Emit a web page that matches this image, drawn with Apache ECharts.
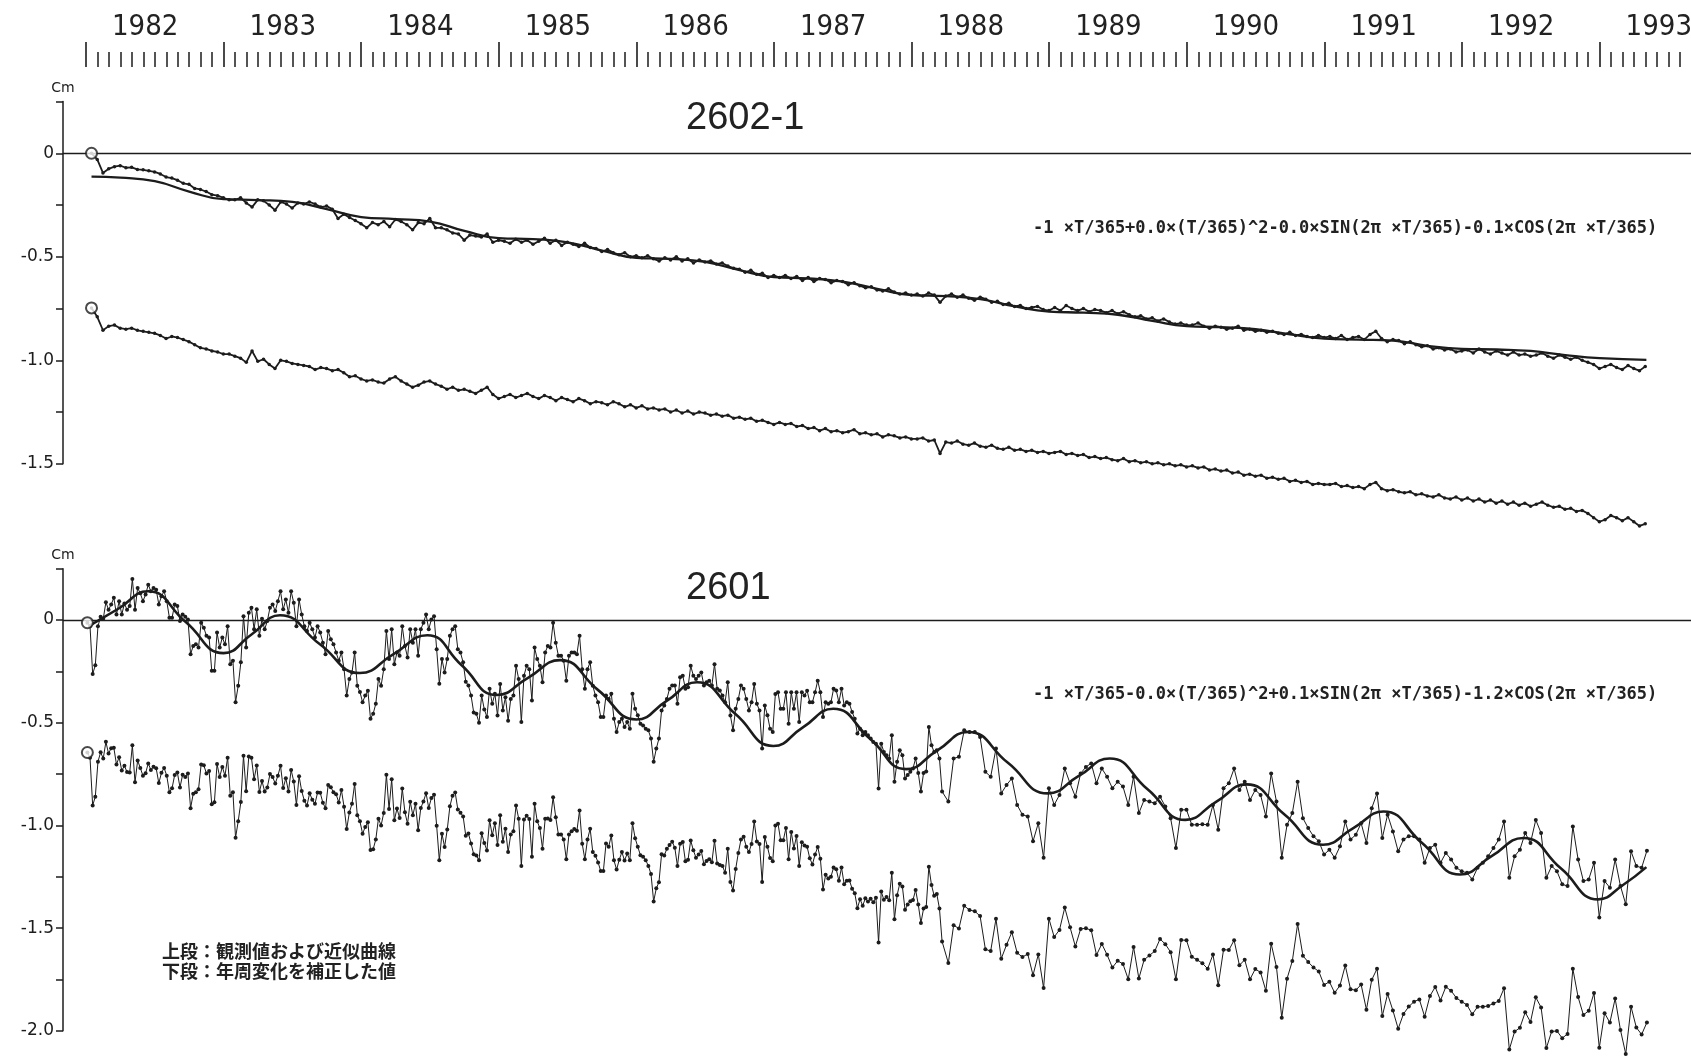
<!DOCTYPE html>
<html><head><meta charset="utf-8">
<script src="https://cdn.jsdelivr.net/npm/echarts@6/dist/echarts.min.js"></script>
<style>html,body{margin:0;padding:0;background:#fff}#c{width:1691px;height:1057px}</style>
</head><body><div id="c"></div>
<script>
// ---------------- DATA ----------------
const yearTicks = [1982,1983,1984,1985,1986,1987,1988,1989,1990,1991,1992,1993];

// Station 2602-1 (top panel), semi-monthly samples
const TOP_T0 = 1982.04, TOP_STEP = 1/24;
const topObs = [
 0,-0.03,-0.095,-0.075,-0.065,-0.06,-0.07,-0.068,-0.078,-0.08,-0.085,-0.09,-0.1,-0.115,-0.12,-0.13,-0.145,-0.15,-0.17,-0.175,-0.185,-0.2,-0.205,-0.215,
 -0.225,-0.225,-0.215,-0.24,-0.26,-0.225,-0.23,-0.25,-0.275,-0.235,-0.245,-0.265,-0.24,-0.245,-0.235,-0.245,-0.26,-0.255,-0.27,-0.315,-0.295,-0.31,-0.325,-0.34,
 -0.36,-0.335,-0.345,-0.33,-0.355,-0.32,-0.33,-0.345,-0.37,-0.335,-0.34,-0.315,-0.36,-0.36,-0.37,-0.385,-0.39,-0.42,-0.395,-0.4,-0.405,-0.39,-0.43,-0.42,
 -0.425,-0.435,-0.415,-0.43,-0.42,-0.44,-0.425,-0.41,-0.435,-0.42,-0.445,-0.43,-0.44,-0.45,-0.435,-0.455,-0.46,-0.475,-0.465,-0.48,-0.49,-0.48,-0.5,-0.495,
 -0.505,-0.495,-0.51,-0.52,-0.505,-0.515,-0.5,-0.52,-0.51,-0.53,-0.515,-0.525,-0.52,-0.535,-0.53,-0.545,-0.555,-0.56,-0.575,-0.565,-0.585,-0.58,-0.6,-0.59,
 -0.6,-0.59,-0.605,-0.595,-0.615,-0.6,-0.62,-0.605,-0.61,-0.625,-0.615,-0.62,-0.635,-0.625,-0.64,-0.65,-0.645,-0.66,-0.665,-0.655,-0.67,-0.68,-0.675,-0.685,
 -0.68,-0.69,-0.675,-0.685,-0.72,-0.69,-0.68,-0.695,-0.685,-0.7,-0.71,-0.695,-0.705,-0.72,-0.715,-0.73,-0.725,-0.74,-0.735,-0.75,-0.745,-0.74,-0.755,-0.76,
 -0.745,-0.76,-0.735,-0.75,-0.76,-0.75,-0.765,-0.755,-0.76,-0.77,-0.76,-0.775,-0.765,-0.78,-0.79,-0.785,-0.8,-0.795,-0.81,-0.8,-0.815,-0.825,-0.82,-0.83,
 -0.83,-0.82,-0.835,-0.845,-0.835,-0.84,-0.85,-0.845,-0.835,-0.855,-0.85,-0.86,-0.855,-0.865,-0.86,-0.87,-0.875,-0.865,-0.88,-0.875,-0.885,-0.89,-0.88,-0.89,
 -0.885,-0.895,-0.88,-0.9,-0.89,-0.885,-0.9,-0.875,-0.86,-0.895,-0.91,-0.9,-0.905,-0.92,-0.91,-0.925,-0.935,-0.93,-0.945,-0.94,-0.95,-0.945,-0.96,-0.955,
 -0.95,-0.965,-0.945,-0.96,-0.97,-0.955,-0.965,-0.975,-0.96,-0.975,-0.97,-0.98,-0.975,-0.965,-0.98,-0.99,-0.975,-0.985,-0.995,-0.985,-1.0,-1.01,-1.02,-1.04,
 -1.03,-1.02,-1.035,-1.045,-1.025,-1.04,-1.05,-1.03
];
const topCor = [
 -0.747,-0.79,-0.855,-0.835,-0.83,-0.845,-0.85,-0.845,-0.855,-0.86,-0.865,-0.87,-0.88,-0.895,-0.885,-0.89,-0.9,-0.91,-0.925,-0.94,-0.945,-0.955,-0.96,-0.97,
 -0.97,-0.98,-0.99,-1.01,-0.955,-1.005,-0.995,-1.02,-1.04,-1.0,-1.005,-1.015,-1.02,-1.025,-1.03,-1.045,-1.035,-1.04,-1.05,-1.045,-1.06,-1.08,-1.075,-1.09,
 -1.1,-1.095,-1.105,-1.11,-1.09,-1.08,-1.1,-1.115,-1.13,-1.12,-1.105,-1.1,-1.115,-1.125,-1.14,-1.13,-1.145,-1.14,-1.15,-1.16,-1.145,-1.13,-1.165,-1.185,
 -1.175,-1.165,-1.18,-1.17,-1.16,-1.175,-1.185,-1.17,-1.18,-1.195,-1.18,-1.19,-1.2,-1.185,-1.195,-1.21,-1.2,-1.205,-1.215,-1.2,-1.21,-1.225,-1.215,-1.23,
 -1.22,-1.235,-1.23,-1.24,-1.235,-1.25,-1.24,-1.255,-1.245,-1.26,-1.25,-1.255,-1.265,-1.26,-1.27,-1.265,-1.28,-1.275,-1.285,-1.28,-1.295,-1.29,-1.3,-1.31,
 -1.3,-1.31,-1.305,-1.32,-1.315,-1.33,-1.325,-1.34,-1.33,-1.345,-1.34,-1.35,-1.345,-1.335,-1.355,-1.35,-1.36,-1.355,-1.37,-1.36,-1.365,-1.375,-1.37,-1.38,
 -1.38,-1.375,-1.39,-1.385,-1.45,-1.395,-1.4,-1.39,-1.405,-1.41,-1.4,-1.415,-1.42,-1.41,-1.425,-1.43,-1.42,-1.435,-1.43,-1.44,-1.435,-1.445,-1.44,-1.45,
 -1.445,-1.44,-1.455,-1.45,-1.46,-1.455,-1.47,-1.465,-1.475,-1.47,-1.48,-1.485,-1.475,-1.49,-1.485,-1.495,-1.49,-1.5,-1.495,-1.505,-1.5,-1.51,-1.505,-1.515,
 -1.51,-1.52,-1.515,-1.53,-1.525,-1.535,-1.53,-1.545,-1.54,-1.555,-1.55,-1.56,-1.555,-1.57,-1.565,-1.575,-1.57,-1.585,-1.58,-1.59,-1.585,-1.6,-1.595,-1.6,
 -1.6,-1.595,-1.61,-1.605,-1.615,-1.61,-1.62,-1.6,-1.59,-1.62,-1.63,-1.625,-1.635,-1.64,-1.635,-1.65,-1.645,-1.655,-1.66,-1.65,-1.665,-1.67,-1.66,-1.675,
 -1.665,-1.68,-1.67,-1.685,-1.675,-1.69,-1.68,-1.695,-1.685,-1.7,-1.69,-1.705,-1.695,-1.685,-1.7,-1.71,-1.705,-1.72,-1.715,-1.73,-1.725,-1.74,-1.76,-1.78,
 -1.77,-1.75,-1.76,-1.775,-1.76,-1.78,-1.8,-1.79
];
const topFitT = [1982.04,1982.25,1982.5,1982.75,1983,1983.25,1983.5,1983.75,1984,1984.25,1984.5,1984.75,1985,1985.25,1985.5,1985.75,1986,1986.25,1986.5,1986.75,1987,1987.25,1987.5,1987.75,1988,1988.25,1988.5,1988.75,1989,1989.25,1989.5,1989.75,1990,1990.25,1990.5,1990.75,1991,1991.25,1991.5,1991.75,1992,1992.25,1992.5,1992.75,1993,1993.34];
const topFitV = [-0.113,-0.118,-0.135,-0.185,-0.222,-0.226,-0.235,-0.27,-0.308,-0.318,-0.33,-0.375,-0.41,-0.415,-0.43,-0.47,-0.505,-0.51,-0.525,-0.565,-0.598,-0.605,-0.62,-0.655,-0.685,-0.69,-0.705,-0.74,-0.765,-0.77,-0.78,-0.81,-0.835,-0.84,-0.85,-0.875,-0.895,-0.9,-0.905,-0.93,-0.945,-0.948,-0.955,-0.975,-0.99,-0.998];

// Station 2601 (bottom panel): weekly samples to early 1988, then fortnightly
const DENSE_T0 = 1982.01, DENSE_STEP = 1/52;
const SPARSE_T0 = 1988.267, SPARSE_STEP = 1/26;
const botObsDense = [
 -0.013,-0.03,-0.263,-0.22,-0.03,0.016,0.006,0.087,0.05,0.076,0.108,0.027,0.092,0.027,0.08,0.05,0.068,0.2,0.05,0.156,0.13,0.092,0.124,0.172,0.14,0.156,0.148,0.076,0.116,0.14,0.092,0.011,0.011,0.076,0.068,-0.005,0.027,0.016,0.003,-0.166,-0.126,-0.118,-0.134,-0.013,-0.037,-0.077,-0.085,-0.247,-0.247,-0.061,-0.134,-0.085,
 -0.118,-0.03,-0.215,-0.198,-0.4,-0.32,-0.206,0.019,-0.134,0.035,0.06,-0.045,0.052,-0.077,0.006,-0.045,-0.005,0.06,0.076,0.044,0.092,0.14,0.052,0.1,0.035,0.14,0.084,-0.03,0.1,0.027,-0.03,-0.053,-0.013,-0.045,-0.085,-0.03,-0.061,-0.11,-0.166,-0.053,-0.094,-0.118,-0.158,-0.198,-0.158,-0.239,-0.368,-0.287,-0.255,-0.158,-0.32,-0.35,
 -0.4,-0.368,-0.344,-0.48,-0.456,-0.408,-0.287,-0.32,-0.239,-0.053,-0.19,-0.045,-0.215,-0.158,-0.174,-0.03,-0.126,-0.182,-0.045,-0.11,-0.045,-0.174,-0.045,-0.013,0.027,-0.045,0.003,0.019,-0.142,-0.31,-0.19,-0.255,-0.19,-0.077,-0.045,-0.03,-0.142,-0.158,-0.206,-0.3,-0.319,-0.368,-0.45,-0.456,-0.5,-0.368,-0.435,-0.472,-0.335,-0.408,-0.359,-0.465,
 -0.311,-0.44,-0.376,-0.49,-0.384,-0.368,-0.223,-0.287,-0.497,-0.271,-0.223,-0.239,-0.392,-0.134,-0.19,-0.223,-0.303,-0.158,-0.126,-0.134,-0.013,-0.11,-0.174,-0.174,-0.198,-0.295,-0.174,-0.158,-0.158,-0.166,-0.077,-0.239,-0.335,-0.239,-0.206,-0.32,-0.368,-0.4,-0.472,-0.472,-0.368,-0.384,-0.359,-0.48,-0.545,-0.497,-0.48,-0.521,-0.497,-0.529,-0.359,-0.432,
 -0.464,-0.505,-0.513,-0.529,-0.537,-0.577,-0.69,-0.626,-0.577,-0.44,-0.416,-0.384,-0.335,-0.319,-0.319,-0.408,-0.279,-0.271,-0.335,-0.327,-0.223,-0.271,-0.287,-0.271,-0.255,-0.319,-0.303,-0.295,-0.319,-0.215,-0.335,-0.343,-0.368,-0.4,-0.303,-0.465,-0.537,-0.432,-0.384,-0.319,-0.335,-0.384,-0.44,-0.4,-0.311,-0.408,-0.44,-0.626,-0.416,-0.464,-0.529,-0.545,
 -0.36,-0.352,-0.432,-0.432,-0.352,-0.505,-0.352,-0.432,-0.352,-0.497,-0.352,-0.368,-0.344,-0.4,-0.4,-0.352,-0.295,-0.352,-0.472,-0.4,-0.408,-0.4,-0.335,-0.343,-0.4,-0.335,-0.416,-0.4,-0.408,-0.448,-0.48,-0.553,-0.529,-0.561,-0.545,-0.561,-0.577,-0.594,-0.602,-0.82,-0.602,-0.642,-0.658,-0.674,-0.561,-0.787,-0.69,-0.634,-0.658,-0.771,-0.755,-0.739,
 -0.723,-0.674,-0.745,-0.835,-0.745,-0.737,-0.521,-0.61,-0.642,-0.634,-0.674,-0.835
];
const botObsSparse = [
 -0.884,-0.674,-0.666,-0.537,-0.545,-0.545,-0.569,-0.739,-0.763,-0.626,-0.844,-0.803,-0.771,-0.9,-0.948,-0.956,-1.077,-0.989,-1.158,-0.819,
 -0.9,-0.852,-0.723,-0.795,-0.86,-0.747,-0.715,-0.698,-0.795,-0.723,-0.763,-0.819,-0.787,-0.811,-0.9,-0.763,-0.94,-0.876,-0.884,-0.892,
 -0.86,-0.908,-0.965,-1.11,-0.924,-0.924,-0.997,-0.997,-0.994,-0.997,-0.9,-1.021,-0.819,-0.795,-0.723,-0.827,-0.787,-0.876,-0.827,-0.852,
 -0.956,-0.747,-0.884,-1.158,-0.997,-0.94,-0.787,-0.965,-1.013,-1.053,-1.077,-1.142,-1.118,-1.158,-1.102,-0.981,-1.069,-1.045,-0.989,-1.085,
 -0.916,-0.844,-1.061,-0.948,-1.029,-1.126,-1.069,-1.053,-1.053,-1.069,-1.182,-1.11,-1.094,-1.182,-1.134,-1.166,-1.206,-1.223,-1.231,-1.263,
 -1.206,-1.182,-1.15,-1.11,-1.069,-0.981,-1.255,-1.15,-1.118,-1.037,-1.085,-0.973,-1.037,-1.255,-1.198,-1.223,-1.287,-1.295,-1.005,-1.166,
 -1.271,-1.263,-1.182,-1.448,-1.271,-1.303,-1.166,-1.295,-1.384,-1.126,-1.198,-1.206,-1.123
];
const botCorDense = [
 -0.645,-0.67,-0.903,-0.86,-0.69,-0.644,-0.674,-0.593,-0.65,-0.624,-0.622,-0.703,-0.668,-0.733,-0.71,-0.74,-0.742,-0.61,-0.79,-0.684,-0.72,-0.758,-0.746,-0.698,-0.73,-0.714,-0.722,-0.794,-0.744,-0.72,-0.758,-0.839,-0.819,-0.754,-0.742,-0.815,-0.753,-0.764,-0.747,-0.916,-0.846,-0.838,-0.824,-0.703,-0.707,-0.747,-0.735,-0.897,-0.887,-0.701,-0.764,-0.715,
 -0.758,-0.67,-0.855,-0.838,-1.06,-0.98,-0.886,-0.661,-0.834,-0.665,-0.67,-0.775,-0.708,-0.837,-0.784,-0.835,-0.815,-0.75,-0.764,-0.796,-0.758,-0.71,-0.818,-0.77,-0.835,-0.73,-0.786,-0.9,-0.76,-0.833,-0.88,-0.903,-0.843,-0.875,-0.895,-0.84,-0.841,-0.89,-0.916,-0.803,-0.814,-0.838,-0.848,-0.888,-0.828,-0.909,-1.018,-0.937,-0.895,-0.798,-0.95,-0.98,
 -1.04,-1.008,-0.984,-1.12,-1.116,-1.068,-0.967,-1.0,-0.939,-0.753,-0.92,-0.775,-0.975,-0.918,-0.964,-0.82,-0.936,-0.992,-0.885,-0.95,-0.895,-1.024,-0.915,-0.883,-0.843,-0.915,-0.867,-0.851,-1.002,-1.17,-1.04,-1.105,-1.02,-0.907,-0.855,-0.84,-0.922,-0.938,-0.956,-1.05,-1.039,-1.088,-1.14,-1.146,-1.17,-1.038,-1.085,-1.122,-0.975,-1.048,-0.989,-1.095,
 -0.951,-1.08,-1.016,-1.13,-1.044,-1.028,-0.903,-0.967,-1.197,-0.971,-0.953,-0.969,-1.152,-0.894,-0.98,-1.013,-1.113,-0.968,-0.966,-0.974,-0.863,-0.96,-1.044,-1.044,-1.068,-1.165,-1.044,-1.028,-1.018,-1.026,-0.927,-1.089,-1.165,-1.069,-1.016,-1.13,-1.148,-1.18,-1.222,-1.222,-1.088,-1.104,-1.049,-1.17,-1.215,-1.167,-1.13,-1.171,-1.137,-1.169,-0.989,-1.062,
 -1.104,-1.145,-1.153,-1.169,-1.197,-1.237,-1.37,-1.306,-1.277,-1.14,-1.146,-1.114,-1.095,-1.079,-1.109,-1.198,-1.089,-1.081,-1.175,-1.167,-1.073,-1.121,-1.157,-1.141,-1.125,-1.189,-1.173,-1.165,-1.179,-1.075,-1.185,-1.193,-1.198,-1.23,-1.113,-1.275,-1.317,-1.212,-1.134,-1.069,-1.055,-1.104,-1.13,-1.09,-0.981,-1.078,-1.09,-1.276,-1.056,-1.104,-1.159,-1.175,
 -1.0,-0.992,-1.072,-1.072,-1.012,-1.165,-1.032,-1.112,-1.052,-1.197,-1.082,-1.098,-1.104,-1.16,-1.19,-1.142,-1.105,-1.162,-1.312,-1.24,-1.258,-1.25,-1.205,-1.213,-1.27,-1.205,-1.286,-1.27,-1.268,-1.308,-1.33,-1.403,-1.359,-1.391,-1.355,-1.371,-1.357,-1.374,-1.352,-1.57,-1.322,-1.362,-1.348,-1.364,-1.231,-1.457,-1.34,-1.284,-1.298,-1.411,-1.385,-1.369,
 -1.363,-1.314,-1.385,-1.475,-1.405,-1.397,-1.201,-1.29,-1.342,-1.334,-1.404,-1.565
];
const botCorSparse = [
 -1.67,-1.486,-1.502,-1.391,-1.412,-1.418,-1.441,-1.603,-1.612,-1.455,-1.649,-1.581,-1.52,-1.62,-1.641,-1.626,-1.729,-1.628,-1.792,-1.454,
 -1.543,-1.509,-1.4,-1.496,-1.589,-1.504,-1.501,-1.51,-1.631,-1.577,-1.63,-1.692,-1.659,-1.675,-1.749,-1.592,-1.745,-1.654,-1.633,-1.612,
 -1.553,-1.578,-1.617,-1.749,-1.558,-1.559,-1.64,-1.654,-1.671,-1.698,-1.629,-1.778,-1.605,-1.607,-1.559,-1.681,-1.654,-1.749,-1.699,-1.716,
 -1.805,-1.576,-1.689,-1.936,-1.746,-1.66,-1.48,-1.635,-1.665,-1.692,-1.711,-1.777,-1.761,-1.815,-1.779,-1.682,-1.798,-1.802,-1.775,-1.897,
 -1.752,-1.698,-1.928,-1.821,-1.901,-1.99,-1.918,-1.882,-1.858,-1.847,-1.931,-1.83,-1.787,-1.852,-1.786,-1.805,-1.84,-1.858,-1.874,-1.92,
 -1.883,-1.883,-1.879,-1.867,-1.855,-1.793,-2.091,-2.004,-1.985,-1.91,-1.957,-1.837,-1.886,-2.084,-2.003,-2.001,-2.036,-2.015,-1.698,-1.836,
 -1.923,-1.902,-1.816,-2.083,-1.914,-1.96,-1.843,-1.996,-2.113,-1.883,-1.984,-2.018,-1.959
];
const botFitT = [1982.02,1982.235,1982.45,1982.725,1983.0,1983.205,1983.41,1983.7,1983.99,1984.235,1984.48,1984.73,1984.985,1985.215,1985.445,1985.72,1986.0,1986.22,1986.44,1986.72,1986.995,1987.21,1987.43,1987.7,1987.96,1988.185,1988.41,1988.7,1988.99,1989.215,1989.44,1989.715,1989.99,1990.21,1990.435,1990.71,1990.99,1991.21,1991.43,1991.71,1991.985,1992.215,1992.445,1992.72,1992.99,1993.17,1993.34];
const botFitV = [-0.03,0.055,0.14,-0.01,-0.161,-0.069,0.023,-0.118,-0.258,-0.166,-0.074,-0.22,-0.365,-0.28,-0.195,-0.34,-0.484,-0.394,-0.303,-0.458,-0.613,-0.523,-0.432,-0.579,-0.726,-0.636,-0.545,-0.695,-0.844,-0.759,-0.674,-0.824,-0.973,-0.887,-0.8,-0.947,-1.094,-1.013,-0.932,-1.086,-1.239,-1.15,-1.061,-1.21,-1.36,-1.29,-1.203];

const formulaTop = '-1 ×T/365+0.0×(T/365)^2-0.0×SIN(2π ×T/365)-0.1×COS(2π ×T/365)';
const formulaBot = '-1 ×T/365-0.0×(T/365)^2+0.1×SIN(2π ×T/365)-1.2×COS(2π ×T/365)';
const noteText = '上段：観測値および近似曲線\n下段：年周変化を補正した値';

// ---------------- BUILD ----------------
function seq(t0, step, vals){ return vals.map((v,i)=>[t0 + i*step, v]); }
function pairs(ts, vs){ return ts.map((t,i)=>[t, vs[i]]); }

const YEAR_PX = 137.6, X1982_PX = 86, AXIS_PX = 63, W = 1691;
const X_MAX = 1994;
const GRID_RIGHT = W - (X1982_PX + (X_MAX - 1982) * YEAR_PX);
const X_MIN_DATA = 1982 - (X1982_PX - AXIS_PX) / YEAR_PX;
const INK = '#1c1c1c';

const topObsData = seq(TOP_T0, TOP_STEP, topObs);
const topCorData = seq(TOP_T0, TOP_STEP, topCor);
const botObsData = seq(DENSE_T0, DENSE_STEP, botObsDense).concat(seq(SPARSE_T0, SPARSE_STEP, botObsSparse));
const botCorData = seq(DENSE_T0, DENSE_STEP, botCorDense).concat(seq(SPARSE_T0, SPARSE_STEP, botCorSparse));

const yLabelFmt = v => {
  if (Math.abs(v) < 1e-9) return '0';
  if (Math.abs(v * 2 - Math.round(v * 2)) < 1e-9 && v < 0) return v.toFixed(1);
  return '';
};
function yAxisCfg(gridIndex, min){
  return {
    gridIndex, type:'value', min, max:0.25, interval:0.25,
    name:'Cm', nameLocation:'end', nameGap:6,
    nameTextStyle:{fontFamily:'DejaVu Sans', fontSize:14, color:INK, align:'center', verticalAlign:'bottom'},
    axisLine:{show:true, lineStyle:{color:INK, width:1.5}},
    axisTick:{show:true, length:7, lineStyle:{color:INK, width:1.5}},
    axisLabel:{formatter:yLabelFmt, fontFamily:'DejaVu Sans', fontSize:17, color:INK, margin:9},
    splitLine:{show:false}
  };
}
function hiddenX(gridIndex){
  return {gridIndex, type:'value', min:X_MIN_DATA, max:X_MAX, show:false, splitLine:{show:false}};
}
const zeroLine = {
  silent:true, symbol:['none','none'], label:{show:false},
  lineStyle:{color:INK, width:1.4, type:'solid'},
  data:[{yAxis:0}]
};
function dataLine(xi, data, size, width, withZero){
  const s = {
    type:'line', xAxisIndex:xi, yAxisIndex:xi, data, clip:false,
    symbol:'circle', symbolSize:size, showSymbol:true,
    itemStyle:{color:INK}, lineStyle:{color:INK, width}, z:3
  };
  if (withZero) s.markLine = zeroLine;
  return s;
}
function fitLine(xi, data, width){
  return {type:'line', xAxisIndex:xi, yAxisIndex:xi, data, smooth:0.5, symbol:'none',
    lineStyle:{color:INK, width}, z:4, clip:false};
}
function startCircle(xi, pts){
  return {type:'scatter', xAxisIndex:xi, yAxisIndex:xi, data:pts, symbol:'emptyCircle', symbolSize:11,
    itemStyle:{color:INK, borderColor:INK, borderWidth:1.3}, z:6};
}

const option = {
  backgroundColor:'#ffffff',
  animation:false,
  textStyle:{fontFamily:'DejaVu Sans'},
  title:[
    {text:'2602-1', left:686, top:100, padding:0, textStyle:{fontFamily:'Liberation Sans', fontSize:38, fontWeight:'normal', color:'#222'}},
    {text:'2601', left:686, top:570, padding:0, textStyle:{fontFamily:'Liberation Sans', fontSize:38, fontWeight:'normal', color:'#222'}},
    {text:formulaTop, left:1033, top:220, padding:0, textStyle:{fontFamily:'DejaVu Sans Mono', fontSize:17, fontWeight:'bold', color:'#222'}},
    {text:formulaBot, left:1033, top:686, padding:0, textStyle:{fontFamily:'DejaVu Sans Mono', fontSize:17, fontWeight:'bold', color:'#222'}},
    {text:noteText, left:162, top:941, padding:0, textStyle:{fontFamily:'Noto Sans CJK JP', fontSize:18, lineHeight:20, fontWeight:'bold', color:'#222'}}
  ],
  grid:[
    {left:X1982_PX, right:GRID_RIGHT, top:57, height:10, outerBoundsMode:'none'},
    {left:AXIS_PX, right:GRID_RIGHT, top:101.5, height:362.3, outerBoundsMode:'none'},
    {left:AXIS_PX, right:GRID_RIGHT, top:568.7, height:462.1, outerBoundsMode:'none'}
  ],
  xAxis:[
    {gridIndex:0, type:'value', position:'top', min:1982, max:X_MAX, interval:1,
     axisLine:{show:false},
     axisTick:{show:true, inside:false, length:25, lineStyle:{color:INK, width:1.6}},
     minorTick:{show:true, splitNumber:12, length:15, lineStyle:{color:INK, width:1.5}},
     axisLabel:{show:true, margin:15, align:'left', padding:[0,0,0,26],
       formatter:v => yearTicks.indexOf(v) >= 0 ? String(v) : '',
       fontFamily:"'Liberation Sans Narrow','DejaVu Sans Condensed',sans-serif", fontSize:29, color:'#222'},
     splitLine:{show:false}, minorSplitLine:{show:false}},
    hiddenX(1), hiddenX(2)
  ],
  yAxis:[
    {gridIndex:0, type:'value', show:false},
    yAxisCfg(1, -1.5),
    yAxisCfg(2, -2.0)
  ],
  series:[
    {type:'line', xAxisIndex:0, yAxisIndex:0, data:[], silent:true},
    fitLine(1, pairs(topFitT, topFitV), 2.3),
    dataLine(1, topObsData, 3.5, 1.8, true),
    dataLine(1, topCorData, 3.5, 1.8, false),
    startCircle(1, [topObsData[0], topCorData[0]]),
    fitLine(2, pairs(botFitT, botFitV), 2.6),
    dataLine(2, botObsData, 4, 1, true),
    dataLine(2, botCorData, 4, 1, false),
    startCircle(2, [botObsData[0], botCorData[0]])
  ]
};
const chart = echarts.init(document.getElementById('c'), null, {renderer:'canvas', width:1691, height:1057});
chart.setOption(option);
</script></body></html>
